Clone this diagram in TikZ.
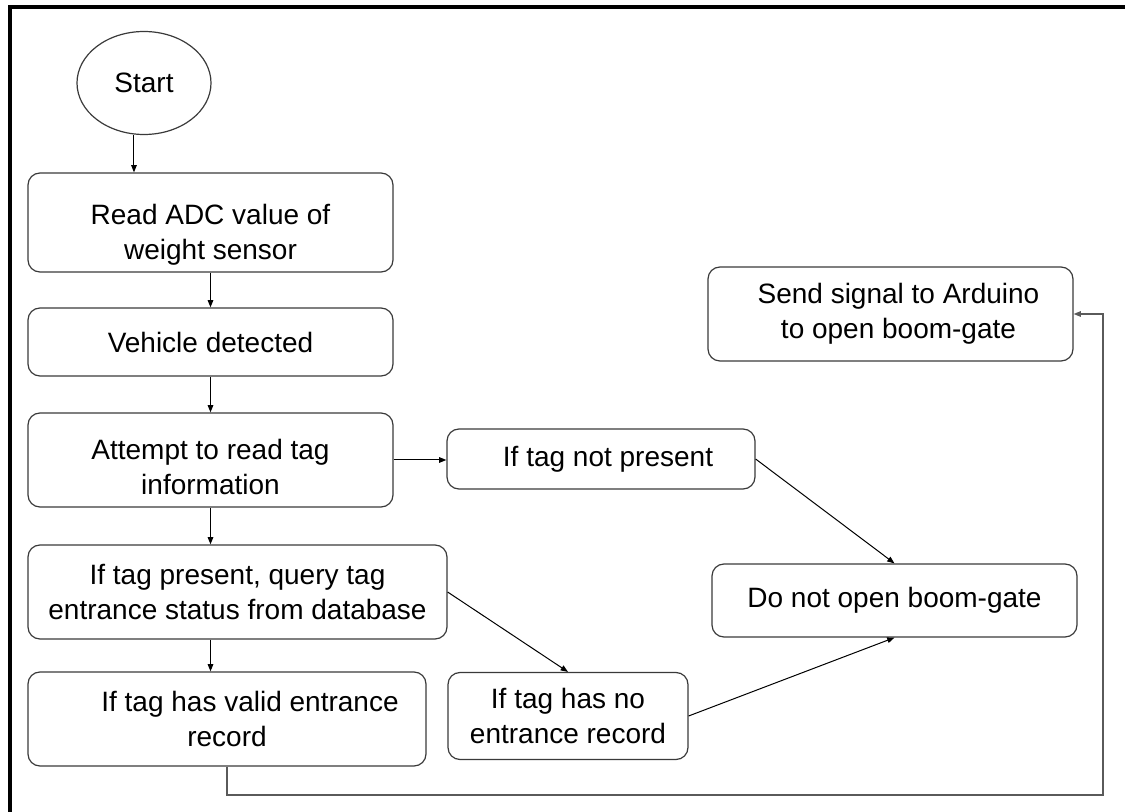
\documentclass[tikz,border=0pt]{standalone}
\usepackage{fontspec}
\setmainfont{Liberation Sans}
\usetikzlibrary{shapes.geometric,arrows.meta}

\definecolor{boxline}{HTML}{3A3A3A}
\definecolor{loopline}{HTML}{5A5A5A}

\begin{document}
\begin{tikzpicture}[x=0.75pt,y=-0.75pt,
  wh/.style 2 args={minimum width=#1*0.75pt, minimum height=#2*0.75pt},
  box/.style={draw=boxline, line width=0.9pt, rounded corners=9pt,
    align=center, inner sep=2pt, font=\fontsize{21}{26.5}\selectfont},
  lowtext/.style 2 args={text height=#1, text depth=#2},
  flow/.style={draw=black, line width=0.75pt,
    -{Triangle[length=5.5pt,width=4.2pt]}},
  loopflow/.style={draw=loopline, line width=0.9pt,
    -{Triangle[length=5.5pt,width=4.2pt]}},
]
\useasboundingbox (0,0) rectangle (1125,812);

% page frame (top and left rules)
\draw[line width=2.3pt, line join=miter] (1125,7) -- (10,7) -- (10,812);

% start terminal
\node[ellipse, draw=boxline, line width=0.9pt, wh={134}{103},
  inner sep=0pt, font=\fontsize{21}{26.5}\selectfont] (start) at (144,83) {Start};

% process boxes
\node[box, wh={365}{99}, lowtext={58pt}{2pt}] (b1) at (210.5,222.5) {Read ADC value of\\weight sensor};
\node[box, wh={365}{68}] (b2) at (210.5,342) {Vehicle detected};
\node[box, wh={365}{94}, lowtext={56.25pt}{3.75pt}] (b3) at (210.5,460) {Attempt to read tag\\information};
\node[box, wh={308}{60}] (b4) at (601,459) {\hspace*{10.5pt}If tag not present};
\node[box, wh={419}{94}] (b5) at (237.5,592) {If tag present, query tag\\entrance status from database};
\node[box, wh={398}{94}] (b6) at (227,719) {\hspace*{34.5pt}If tag has valid entrance\\record};
\node[box, wh={240}{87}] (b7) at (568,716) {If tag has no\\entrance record};
\node[box, wh={365}{73}] (b8) at (894.5,600.5) {Do not open boom-gate};
\node[box, wh={365}{94}] (b9) at (890.5,314) {\hspace*{12pt}Send signal to Arduino\\\hspace*{12pt}to open boom-gate};

% main column
\draw[flow] (start.-101) -- (start.-101 |- b1.north);
\draw[flow] (b1.south) -- (b2.north);
\draw[flow] (b2.south) -- (b3.north);
\draw[flow] (b3.south) -- (b3.south |- b5.north);
\draw[flow] (b5.south -| b3.south) -- (b6.north -| b3.south);

% branches
\draw[flow] (b3.east) -- (b3.east -| b4.west);
\draw[flow] (b5.east) -- (b7.north);
\draw[flow] (b4.east) -- (b8.north);
\draw[flow] (b7.east) -- (b8.south);

% valid record leads back up to the gate signal
\coordinate (loopcorner) at (1103,795);
\draw[loopflow] (b6.south) |- (loopcorner) |- (b9.east);
\end{tikzpicture}
\end{document}
